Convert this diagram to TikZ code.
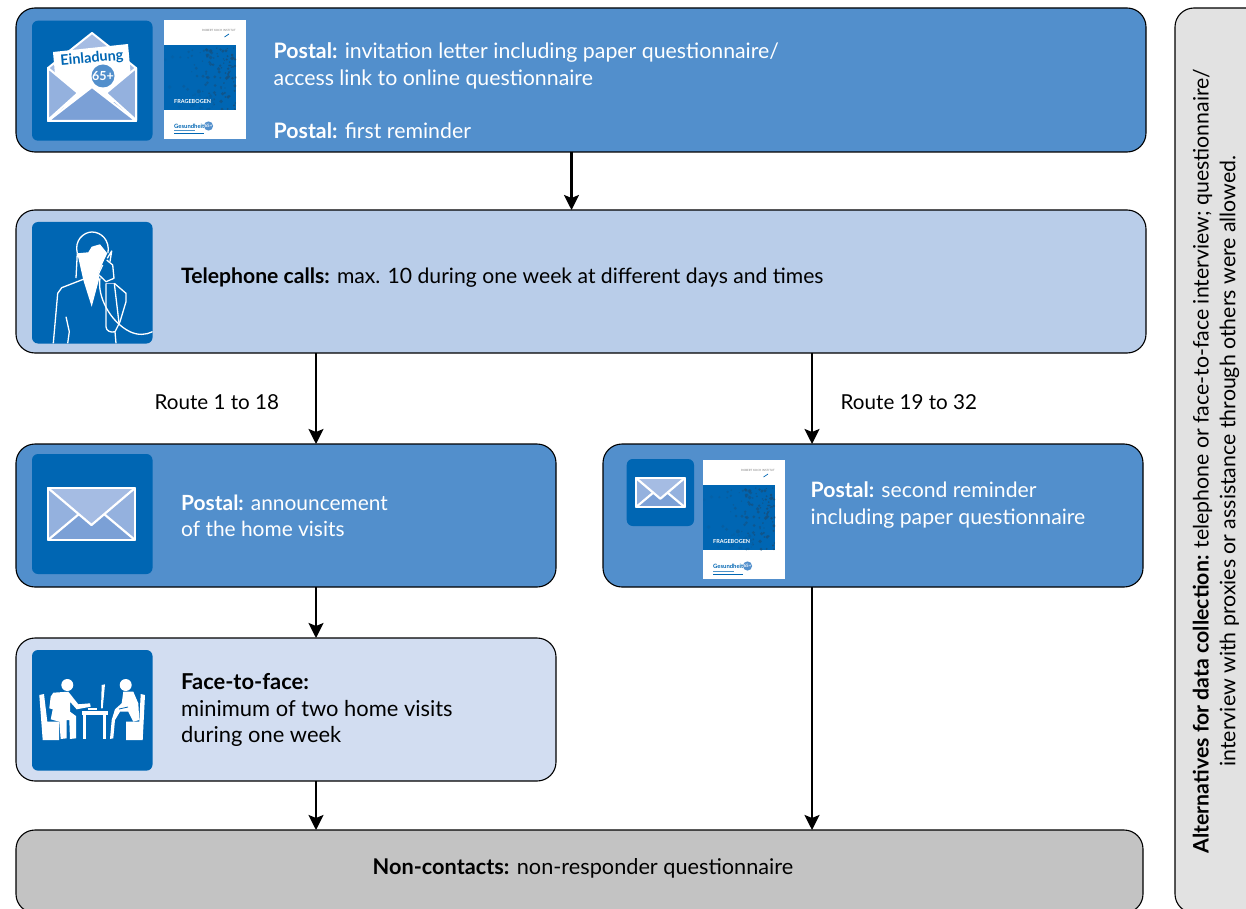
\documentclass[tikz,border=0pt]{standalone}
\usepackage{fontspec}
\setmainfont{Lato}
\usetikzlibrary{arrows.meta}
\definecolor{midblue}{HTML}{528FCC}
\definecolor{lightblue}{HTML}{B9CDE9}
\definecolor{paleblue}{HTML}{D2DDF1}
\definecolor{deepblue}{HTML}{0066B3}
\definecolor{greybox}{HTML}{C3C3C3}
\definecolor{altbox}{HTML}{E2E2E2}
\definecolor{envback}{HTML}{A5BCE3}
\definecolor{envside}{HTML}{94B1DE}
\definecolor{envfront}{HTML}{7BA0D6}
\definecolor{coverdark}{HTML}{15507F}
\tikzset{
  x=1pt,y=-1pt,
  stagebox/.style={draw=black,line width=1.1pt,rounded corners=19pt},
  iconbg/.style={fill=deepblue,rounded corners=6pt},
  label/.style={anchor=west,align=left,inner sep=0pt,font=\fontsize{#1}{26.6}\selectfont},
  flow/.style={draw=black,line width=2.4pt,-{Stealth[length=15pt,width=15pt,inset=3pt]}},
  wline/.style={draw=white,line width=1.3pt,line join=round}
}
\newcommand{\envelope}[3]{% x, y, scale: closed envelope of 87 by 52 units
  \begin{scope}[shift={(#1,#2)},scale=#3]
    \fill[envside,draw=white,line width=2.2pt,line join=round] (0,0) rectangle (87,52);
    \fill[envfront] (0,52) -- (31,26) -- (43.5,37) -- (56,26) -- (87,52) -- cycle;
    \fill[envback] (0,0) -- (43.5,37) -- (87,0) -- cycle;
    \draw[white,line width=2.2pt,line join=round] (0,0) -- (43.5,37) -- (87,0);
    \draw[white,line width=2.2pt] (0,52) -- (31,26) (87,52) -- (56,26);
    \draw[white,line width=2.2pt,line join=round] (0,0) rectangle (87,52);
  \end{scope}}
\newcommand{\booklet}[2]{% x, y of upper left corner, 82 by 119
  \begin{scope}[shift={(#1,#2)}]
    \fill[white] (0,0) rectangle (82,119);
    \fill[deepblue] (0,25) rectangle (72,90);
    \begin{scope}
      \clip (0,25) rectangle (72,90);
      \pgfmathsetseed{65}
      \foreach \i in {1,...,130} {
        \pgfmathsetmacro{\px}{72*sqrt(rnd)}
        \pgfmathsetmacro{\py}{27+63*rnd}
        \pgfmathsetmacro{\pr}{0.6+1.4*rnd}
        \pgfmathsetmacro{\po}{0.1+0.8*\px/72}
        \fill[coverdark,opacity=\po] (\px,\py) circle (\pr);
      }
    \end{scope}
    \fill[deepblue,opacity=.55] (0,74) rectangle (50,90);
    \node[anchor=west,text=white,inner sep=0pt,font=\fontsize{5.5}{6}\bfseries\selectfont] (cv#1) at (10,81.7) {FRAGEBOGEN};
    \node[anchor=east,text=gray,inner sep=0pt,font=\fontsize{2.9}{3}\selectfont] (cr#1) at (72,10.5) {ROBERT KOCH INSTITUT};
    \draw[deepblue,line width=.7pt] (60.5,17) -- (65,14);
    \node[anchor=west,text=deepblue,inner sep=0pt,font=\fontsize{5.9}{6}\bfseries\selectfont] (cg#1) at (10,106) {Gesundheit};
    \fill[midblue] (44.5,106) circle (4.6);
    \node[text=white,inner sep=0pt,font=\fontsize{4.5}{5}\bfseries\selectfont] (cn#1) at (44.5,106) {65+};
    \fill[deepblue,opacity=.7] (10,110.5) rectangle (31,111.3);
    \fill[deepblue] (10,113.5) rectangle (40,114.5);
  \end{scope}}
\begin{document}
\begin{tikzpicture}
\useasboundingbox (0,0) rectangle (1246,909);
\clip (0,0) rectangle (1246,909);
% boxes
\draw[stagebox,fill=midblue] (16,8) rectangle (1146,152);
\draw[stagebox,fill=lightblue] (16,210) rectangle (1146,353);
\draw[stagebox,fill=midblue] (16,444) rectangle (556,587);
\draw[stagebox,fill=midblue] (603,444) rectangle (1143,587);
\draw[stagebox,fill=paleblue] (16,638) rectangle (556,781);
\draw[stagebox,fill=greybox] (16,830) rectangle (1143,913);
\draw[stagebox,fill=altbox] (1175,8) rectangle (1290,913);
% connectors
\coordinate (a1) at (571.5,152); \coordinate (b1) at (571.5,210);
\coordinate (b2) at (316,353); \coordinate (c1) at (316,444);
\coordinate (b3) at (812,353); \coordinate (d1) at (812,444);
\coordinate (c2) at (316,587); \coordinate (e1) at (316,638);
\coordinate (e2) at (316,781); \coordinate (f1) at (316,830);
\coordinate (d2) at (812,587); \coordinate (f2) at (812,830);
\draw[flow] (a1) -- (b1);
\draw[flow] (b2) -- (c1);
\draw[flow] (b3) -- (d1);
\draw[flow] (c2) -- (e1);
\draw[flow] (e2) -- (f1);
\draw[flow] (d2) -- (f2);
% icon 1: invitation
\fill[iconbg] (32,20.7) rectangle (152.5,140.7);
\fill[envback,draw=white,line width=2pt,line join=round] (48,68) -- (92,33) -- (136,68) -- (136,121) -- (48,121) -- cycle;
\fill[white] (53,52) -- (128,44) -- (133,100) -- (58,108) -- cycle;
\fill[envside,draw=white,line width=2pt,line join=round] (48,68) -- (78,93) -- (48,120) -- cycle;
\fill[envside,draw=white,line width=2pt,line join=round] (136,68) -- (106,93) -- (136,120) -- cycle;
\fill[envfront,draw=white,line width=2pt,line join=round] (48,121) -- (92,87) -- (136,121) -- cycle;
\node[rotate=5,text=deepblue,inner sep=0pt,font=\fontsize{14.4}{15}\bfseries\selectfont] (einl) at (92,58.5) {Einladung};
\fill[midblue] (103,76) circle (11.5);
\node[text=white,inner sep=0pt,font=\fontsize{12.5}{13}\bfseries\selectfont] (sf) at (103,76) {65+};
\booklet{164}{20}
\node[label=21.3,text=white] (t1) at (273.5,91) {\textbf{Postal:} invitation letter including paper questionnaire/\\access link to online questionnaire\\[26.6pt]\textbf{Postal:} first reminder};
% icon 2: telephone
\fill[iconbg] (32,222) rectangle (152.5,343.5);
\fill[white] (77.3,253.3) -- (88.3,252.3) -- (91.7,246.7) -- (100,244.3) -- (107.3,253.3) -- (103.3,261.7) -- (98.3,273.3) -- (99.3,278.3) -- (91.7,306.7) -- (83.3,280) -- cycle;
\draw[wline] (77.3,253.3) .. controls (74,240) and (84,232) .. (92,232) .. controls (101,232) and (110,240) .. (108,253);
\draw[wline] (77.3,253.3) -- (76,278);
\draw[wline] (83.3,279.3) -- (61.7,287.7) -- (57.7,293.3) -- (53.3,343.3);
\draw[wline] (66,316.7) -- (69.3,331.7) -- (67.7,343.3);
\draw[wline] (107.3,258.3) -- (111.7,251) -- (110,261.7);
\draw[wline] (102.7,265) -- (98.3,274.3) -- (106,281.7) -- (114,278.3) -- (112.7,265) -- (106.7,260);
\draw[envback,line width=1.6pt] (106,283.3) -- (114.3,283.3);
\draw[wline] (106,283.3) -- (106,326.7) .. controls (106,331) and (111,333) .. (115,331.7);
\draw[wline] (114.3,283.3) -- (126,293.3) -- (126,301.7) -- (120,321.7) -- (115,331.7) -- (116,343.3);
\draw[wline] (114.3,283.3) -- (119,323);
\draw[wline] (100,278.3) .. controls (97,296) and (110,322) .. (130,331.7) .. controls (138,335.5) and (146,335) .. (152.5,331.7);
% icon 3: envelope
\fill[iconbg] (32,454) rectangle (152.5,574);
\envelope{48}{488}{1}
% icon 4: small envelope and booklet
\fill[iconbg] (626.7,459) rectangle (694,526);
\envelope{636}{478}{0.56}
\booklet{703}{460}
% icon 5: face to face
\fill[iconbg] (32,650) rectangle (152.5,770.6);
\fill[white] (67.3,685) circle (6);
\fill[white] (125.7,685) circle (6);
\fill[white] (39.3,695) -- (44,694) -- (47.3,721.7) -- (59,721.7) -- (59,740) -- (42.7,740) -- cycle;
\fill[white] (53.3,692.7) -- (68.3,691.7) -- (78.3,704.3) -- (90,703.3) -- (90.7,706.7) -- (76.7,709.3) -- (70,701.7) -- (70,711.7) -- (76,716) -- (76,738.3) -- (70,739) -- (69.3,720) -- (66.7,720) -- (66.7,738.3) -- (60.7,739) -- (59.3,721.7) -- (50.7,719.3) -- (52.7,709.3) -- (49.3,708.3) -- (50.7,696.7) -- cycle;
\fill[white] (81.7,710.7) rectangle (108.3,715);
\fill[white] (83.3,715) rectangle (86,739);
\fill[white] (103.3,715) rectangle (106,739);
\fill[white] (101.7,685) -- (105,684.3) -- (102.7,708.3) -- (101,708.3) -- cycle;
\fill[white] (88,708) rectangle (97,709.8);
\fill[white] (123.3,691.7) -- (133.3,691.7) -- (138.3,703.3) -- (139.3,720) -- (133.3,721.7) -- (128.3,711.7) -- (120,711.7) -- (115,720) -- (113.3,738.3) -- (110,739) -- (111.7,720) -- (115,709.3) -- (121.7,703.3) -- cycle;
\draw[deepblue,line width=.8pt] (119,709) -- (128,707);
\fill[white] (140.7,694) -- (145,695) -- (142.7,740) -- (126,740) -- (126,721.7) -- (139.3,721.7) -- cycle;
% text
\node[label=21.15,text=black] (t2) at (181,278) {\textbf{Telephone calls:} max. 10 during one week at different days and times};
\node[label=20.9,text=white] (t3) at (181,516) {\textbf{Postal:} announcement\\of the home visits};
\node[label=21.2,text=white] (t4) at (810.5,505) {\textbf{Postal:} second reminder\\including paper questionnaire};
\node[label=21.9,text=black] (t5) at (181,710) {\textbf{Face-to-face:}\\minimum of two home visits\\during one week};
\node[label=20.6,text=black] (t6) at (154.5,402) {Route 1 to 18};
\node[label=20.6,text=black] (t7) at (840.5,402) {Route 19 to 32};
\node[label=21.7,text=black,anchor=center] (t8) at (583,868.5) {\textbf{Non-contacts:} non-responder questionnaire};
\node[label=21.3,text=black,anchor=center,align=center,rotate=90] (t9) at (1216,461) {\textbf{Alternatives for data collection:} telephone or face-to-face interview; questionnaire/\\interview with proxies or assistance through others were allowed.};
\end{tikzpicture}
\end{document}
